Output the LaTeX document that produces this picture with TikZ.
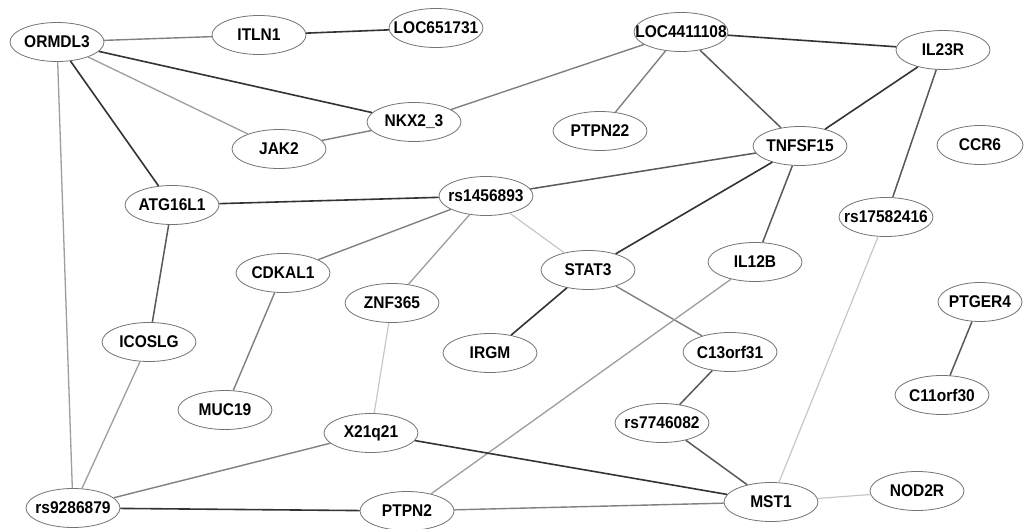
\documentclass[tikz,border=0pt]{standalone}
\usepackage{fontspec}
\setmainfont{Liberation Sans}
\usetikzlibrary{shapes.geometric}
\newcommand\gt[1]{\makebox[0pt]{\scalebox{0.97}[1.06]{#1}}}
\tikzset{
  gene/.style={ellipse, draw=black!55, line width=0.8pt, fill=white,
    minimum width=94pt, minimum height=39pt, inner sep=0pt,
    font=\bfseries\fontsize{16}{18}\selectfont},
  edark/.style={draw=black!80, line width=1.6pt},
  edm/.style={draw=black!65, line width=1.5pt},
  emed/.style={draw=black!50, line width=1.4pt},
  eml/.style={draw=black!38, line width=1.3pt},
  elight/.style={draw=black!22, line width=1.2pt},
}
\begin{document}
\begin{tikzpicture}[x=1pt,y=-1pt]
\useasboundingbox[fill=white] (0,0) rectangle (1026,529);
\node[gene] (ORMDL3) at (57,42) {\gt{ORMDL3}};
\node[gene] (ITLN1) at (259,35) {\gt{ITLN1}};
\node[gene] (LOC651731) at (436,28) {\gt{LOC651731}};
\node[gene] (LOC4411108) at (681,32) {\gt{LOC4411108}};
\node[gene] (IL23R) at (943,50) {\gt{IL23R}};
\node[gene] (NKX23) at (414,122) {\gt{NKX2\_3}};
\node[gene] (JAK2) at (279,149) {\gt{JAK2}};
\node[gene] (PTPN22) at (600,131) {\gt{PTPN22}};
\node[gene] (TNFSF15) at (800,146) {\gt{TNFSF15}};
\node[gene, minimum width=86pt] (CCR6) at (980,145) {\gt{CCR6}};
\node[gene] (ATG16L1) at (172,205) {\gt{ATG16L1}};
\node[gene] (rs1456893) at (486,196) {\gt{rs1456893}};
\node[gene] (rs17582416) at (886,217) {\gt{rs17582416}};
\node[gene] (CDKAL1) at (283,273) {\gt{CDKAL1}};
\node[gene] (ZNF365) at (392,303) {\gt{ZNF365}};
\node[gene] (STAT3) at (588,270) {\gt{STAT3}};
\node[gene] (IL12B) at (755,262) {\gt{IL12B}};
\node[gene] (IRGM) at (490,353) {\gt{IRGM}};
\node[gene] (ICOSLG) at (149,342) {\gt{ICOSLG}};
\node[gene] (C13orf31) at (730,352) {\gt{C13orf31}};
\node[gene, minimum width=84pt] (PTGER4) at (980,302) {\gt{PTGER4}};
\node[gene] (MUC19) at (225,410) {\gt{MUC19}};
\node[gene] (C11orf30) at (942,395) {\gt{C11orf30}};
\node[gene] (X21q21) at (371,433) {\gt{X21q21}};
\node[gene] (rs7746082) at (662,423) {\gt{rs7746082}};
\node[gene] (rs9286879) at (73,508) {\gt{rs9286879}};
\node[gene] (PTPN2) at (407,511) {\gt{PTPN2}};
\node[gene] (MST1) at (771,502) {\gt{MST1}};
\node[gene] (NOD2R) at (917,491) {\gt{NOD2R}};

\draw[emed] (ORMDL3) -- (ITLN1);
\draw[edark] (ITLN1) -- (LOC651731);
\draw[edark] (ORMDL3) -- (NKX23);
\draw[eml] (ORMDL3) -- (JAK2);
\draw[edark] (ORMDL3) -- (ATG16L1);
\draw[eml] (ORMDL3) -- (rs9286879);
\draw[emed] (JAK2) -- (NKX23);
\draw[emed] (NKX23) -- (LOC4411108);
\draw[emed] (LOC4411108) -- (PTPN22);
\draw[edm] (LOC4411108) -- (TNFSF15);
\draw[edark] (LOC4411108) -- (IL23R);
\draw[edark] (IL23R) -- (TNFSF15);
\draw[edm] (IL23R) -- (rs17582416);
\draw[edm] (TNFSF15) -- (rs1456893);
\draw[edark] (TNFSF15) -- (STAT3);
\draw[edm] (TNFSF15) -- (IL12B);
\draw[edark] (ATG16L1) -- (rs1456893);
\draw[edm] (ATG16L1) -- (ICOSLG);
\draw[emed] (rs1456893) -- (CDKAL1);
\draw[eml] (rs1456893) -- (ZNF365);
\draw[elight] (rs1456893) -- (STAT3);
\draw[emed] (CDKAL1) -- (MUC19);
\draw[elight] (ZNF365) -- (X21q21);
\draw[edark] (STAT3) -- (IRGM);
\draw[emed] (STAT3) -- (C13orf31);
\draw[eml] (IL12B) -- (PTPN2);
\draw[edm] (C13orf31) -- (rs7746082);
\draw[edm] (rs7746082) -- (MST1);
\draw[elight] (rs17582416) -- (MST1);
\draw[edm] (PTGER4) -- (C11orf30);
\draw[eml] (ICOSLG) -- (rs9286879);
\draw[emed] (X21q21) -- (rs9286879);
\draw[edark] (X21q21) -- (MST1);
\draw[edark] (rs9286879) -- (PTPN2);
\draw[emed] (PTPN2) -- (MST1);
\draw[elight] (MST1) -- (NOD2R);
\end{tikzpicture}
\end{document}
